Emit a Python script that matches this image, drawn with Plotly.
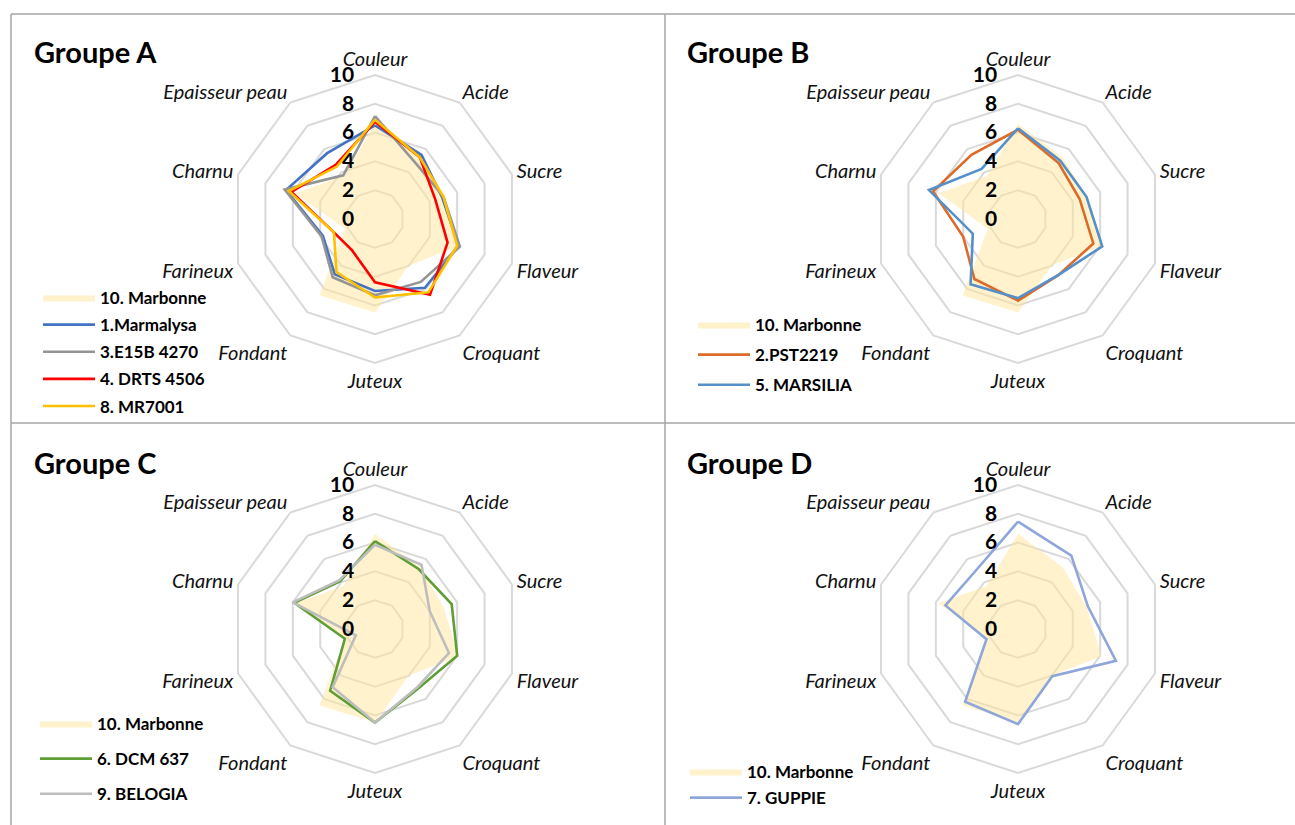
import plotly.graph_objects as go

W, H = 1295, 825

attributes = ["Couleur", "Acide", "Sucre", "Flaveur", "Croquant", "Juteux",
              "Fondant", "Farineux", "Charnu", "Epaisseur peau"]

marbonne = [6.6, 5.3, 5.0, 6.1, 4.0, 6.5, 6.55, 2.2, 5.8, 3.7]
marmalysa = [6.5, 5.5, 4.9, 6.1, 5.9, 5.0, 4.75, 3.8, 6.5, 5.65]
e15b_4270 = [7.15, 4.8, 5.0, 6.2, 5.4, 5.3, 5.0, 3.9, 6.6, 3.75]
drts_4506 = [6.75, 5.3, 4.4, 5.3, 6.5, 4.4, 2.7, 3.0, 6.1, 4.65]
mr7001 = [6.9, 5.3, 5.0, 6.0, 6.3, 5.45, 4.55, 3.0, 6.3, 4.5]
pst2219 = [6.2, 4.8, 4.5, 5.5, 4.8, 5.67, 5.15, 4.0, 6.2, 5.5]
marsilia = [6.3, 5.0, 5.0, 6.15, 4.8, 5.5, 5.6, 3.3, 6.5, 4.3]
dcm_637 = [6.1, 5.15, 5.6, 6.0, 5.1, 6.5, 5.3, 2.2, 5.9, 4.1]
belogia = [5.85, 5.5, 4.0, 5.4, 5.0, 6.5, 5.0, 1.4, 6.0, 4.2]
guppie = [7.45, 6.3, 5.1, 7.15, 4.05, 6.6, 6.25, 2.3, 5.3, 5.0]

radial_ticks = [0, 2, 4, 6, 8, 10]

groups = [
    ("Groupe A", "polar", "legend",
     [("1.Marmalysa", marmalysa, "#4472C4"),
      ("3.E15B 4270", e15b_4270, "#959595"),
      ("4. DRTS 4506", drts_4506, "#FF0000"),
      ("8. MR7001", mr7001, "#FFC000")]),
    ("Groupe B", "polar2", "legend2",
     [("2.PST2219", pst2219, "#DC6B2A"),
      ("5. MARSILIA", marsilia, "#5590C8")]),
    ("Groupe C", "polar3", "legend3",
     [("6. DCM 637", dcm_637, "#5E9E34"),
      ("9. BELOGIA", belogia, "#BDBDBD")]),
    ("Groupe D", "polar4", "legend4",
     [("7. GUPPIE", guppie, "#8FA6DA")]),
]

FONT = "Lato"

def close(vals):
    return list(vals) + [vals[0]]

fig = go.Figure()
for title, pid, lid, series in groups:
    fig.add_trace(go.Scatterpolar(
        r=close(marbonne), theta=close(attributes), mode="lines",
        fill="toself", fillcolor="rgba(255,230,153,0.5)",
        line=dict(width=0, color="rgba(255,230,153,0.5)"),
        name="10. Marbonne", subplot=pid, legend=lid,
        legendgroup=pid + "m"))
    for name, vals, color in series:
        fig.add_trace(go.Scatterpolar(
            r=close(vals), theta=close(attributes), mode="lines",
            line=dict(width=2.6, color=color),
            name=name, subplot=pid, legend=lid,
            legendgroup=pid + name))

# panel centres (px) and outer radius (px)
centres = {"polar": (375, 219), "polar2": (1018, 219),
           "polar3": (375, 629), "polar4": (1018, 629)}
R = 144

def polar_layout(cx, cy):
    return dict(
        domain=dict(x=[(cx - R) / W, (cx + R) / W],
                    y=[1 - (cy + R) / H, 1 - (cy - R) / H]),
        gridshape="linear",
        bgcolor="rgba(0,0,0,0)",
        radialaxis=dict(range=[0, 10], tickvals=radial_ticks,
                        angle=90, side="counterclockwise", tickangle=90,
                        showline=False, gridcolor="#D9D9D9", gridwidth=2,
                        ticks="outside", ticklen=13, tickcolor="rgba(0,0,0,0)",
                        tickfont=dict(family=FONT, size=21, color="black",
                                      weight="bold")),
        angularaxis=dict(type="category", categoryarray=attributes,
                         direction="clockwise", rotation=90,
                         showgrid=False, showline=True,
                         linecolor="#D9D9D9", linewidth=2,
                         ticks="", tickfont=dict(family=FONT, size=20,
                                                 color="#111111",
                                                 style="italic")),
    )

for pid, (cx, cy) in centres.items():
    fig.layout[pid] = polar_layout(cx, cy)

legend_pos = {"legend": (38, 280, 2), "legend2": (693, 307, 5),
              "legend3": (35, 706, 10), "legend4": (685, 754, 1)}
for lid, (lx, ly, gap) in legend_pos.items():
    fig.layout[lid] = dict(x=lx / W, y=1 - ly / H, xanchor="left",
                           yanchor="top", bgcolor="rgba(0,0,0,0)",
                           itemwidth=52, tracegroupgap=gap,
                           font=dict(family=FONT, size=17, color="black",
                                     weight="bold"))

titles = [("Groupe A", 32, 52), ("Groupe B", 685, 52),
          ("Groupe C", 32, 462), ("Groupe D", 685, 462)]
annotations = []
for t, x, y in titles:
    annotations.append(dict(text="<b>" + t + "</b>", x=x / W, y=1 - y / H,
                            xref="paper", yref="paper", xanchor="left",
                            yanchor="middle", showarrow=False,
                            font=dict(family=FONT, size=29, color="black")))

bc = "#A6A6A6"
shapes = [
    dict(type="line", xref="paper", yref="paper", x0=11 / W, x1=11 / W,
         y0=0, y1=1 - 14 / H, line=dict(color=bc, width=1.5)),
    dict(type="line", xref="paper", yref="paper", x0=11 / W, x1=1,
         y0=1 - 14 / H, y1=1 - 14 / H, line=dict(color=bc, width=1.5)),
    dict(type="line", xref="paper", yref="paper", x0=665 / W, x1=665 / W,
         y0=0, y1=1 - 14 / H, line=dict(color=bc, width=1.5)),
    dict(type="line", xref="paper", yref="paper", x0=11 / W, x1=1,
         y0=1 - 423 / H, y1=1 - 423 / H, line=dict(color=bc, width=1.5)),
]

fig.update_layout(width=W, height=H, margin=dict(l=0, r=0, t=0, b=0),
                  paper_bgcolor="white", plot_bgcolor="white",
                  showlegend=True, annotations=annotations, shapes=shapes)

fig.write_html("out.html", config={"displayModeBar": False},
               post_script="document.body.style.margin='0';"
                           "document.body.style.overflow='hidden';")
